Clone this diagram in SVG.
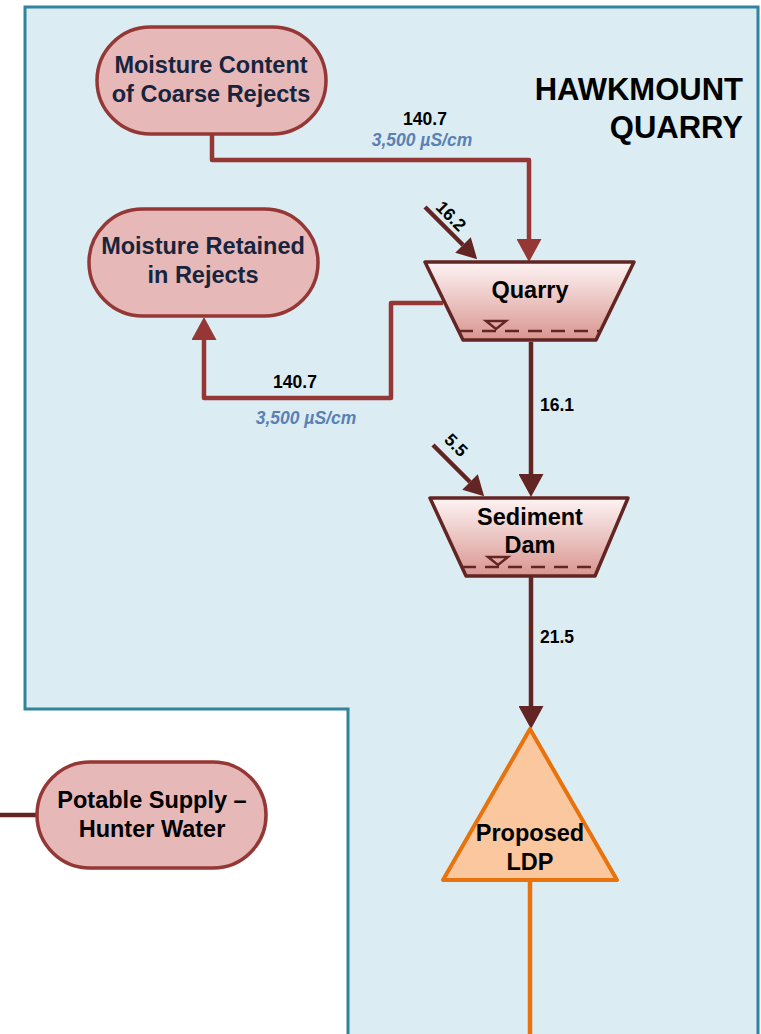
<svg xmlns="http://www.w3.org/2000/svg" width="761" height="1034" viewBox="0 0 761 1034">
  <style>
    .node { fill: #e6b8b7; stroke: #953735; stroke-width: 3.5; }
    .ntext { font-family: "Liberation Sans", Arial, sans-serif; font-weight: bold; font-size: 23.5px; text-anchor: middle; }
    .navy { fill: #17243d; }
    .blk { fill: #000; }
    .pond { stroke: #632523; stroke-width: 3.5; stroke-linejoin: round; }
    .level { stroke: #632523; stroke-width: 2.5; fill: none; }
    .flow { fill: none; stroke-width: 4.5; stroke-linejoin: round; }
    .red { stroke: #953735; }
    .dark { stroke: #632523; }
    .lbl { font-family: "Liberation Sans", Arial, sans-serif; font-weight: bold; font-size: 17.5px; fill: #000; }
    .ec { font-family: "Liberation Sans", Arial, sans-serif; font-weight: bold; font-style: italic; font-size: 17.5px; fill: #5b80b3; text-anchor: middle; }
  </style>
  <defs>
    <linearGradient id="pondFill" x1="0" y1="0" x2="0" y2="1">
      <stop offset="0" stop-color="#fdf4f4"/>
      <stop offset="1" stop-color="#d9958f"/>
    </linearGradient>
    <marker id="headRed" markerUnits="userSpaceOnUse" viewBox="0 0 23 25" refX="0" refY="12.5" markerWidth="23" markerHeight="25" orient="auto">
      <path d="M0,0 L23,12.5 L0,25 Z" fill="#953735"/>
    </marker>
    <marker id="headDark" markerUnits="userSpaceOnUse" viewBox="0 0 23 25" refX="0" refY="12.5" markerWidth="23" markerHeight="25" orient="auto">
      <path d="M0,0 L23,12.5 L0,25 Z" fill="#632523"/>
    </marker>
    <marker id="headSmall" markerUnits="userSpaceOnUse" viewBox="0 0 20 22" refX="0" refY="11" markerWidth="20" markerHeight="22" orient="auto">
      <path d="M0,0 L20,11 L0,22 Z" fill="#632523"/>
    </marker>
  </defs>

  <rect width="761" height="1034" fill="#ffffff"/>

  <!-- site boundary -->
  <g id="hawkmount-quarry">
    <polygon points="25,7 758,7 758,1034 348,1034 348,709 25,709" fill="#dbedf3"/>
    <path d="M348,1034 V709 H25 V7 H758 V1034" fill="none" stroke="#31849b" stroke-width="3"/>
    <text class="ntext blk" style="font-size:31px; text-anchor:end" x="743" y="100">HAWKMOUNT</text>
    <text class="ntext blk" style="font-size:31px; text-anchor:end" x="743" y="138">QUARRY</text>
  </g>

  <!-- connectors -->
  <g id="connectors">
    <path class="flow red" d="M212,134 V160 H529 V239" marker-end="url(#headRed)"/>
    <path class="flow red" d="M443,303 H391 V398 H204 V340" marker-end="url(#headRed)"/>
    <path class="flow dark" d="M425,207 L463,245" stroke-width="3.5" marker-end="url(#headSmall)"/>
    <path class="flow dark" d="M531,342 V474" marker-end="url(#headDark)"/>
    <path class="flow dark" d="M433,445 L470,482" stroke-width="3.5" marker-end="url(#headSmall)"/>
    <path class="flow dark" d="M531,577 V706" marker-end="url(#headDark)"/>
    <path class="flow" d="M530,880 V1034" stroke="#e8720c" stroke-width="5"/>
    <path class="flow dark" d="M0,815 H37" stroke-width="5"/>

    <text class="lbl" x="425" y="125" text-anchor="middle">140.7</text>
    <text class="ec" x="422" y="146">3,500 µS/cm</text>
    <text class="lbl" x="295" y="388" text-anchor="middle">140.7</text>
    <text class="ec" x="306" y="424">3,500 µS/cm</text>
    <text class="lbl" x="540" y="411">16.1</text>
    <text class="lbl" x="540" y="643">21.5</text>
    <g transform="translate(451,216) rotate(45)">
      <text class="lbl" x="0" y="6" text-anchor="middle">16.2</text>
    </g>
    <g transform="translate(456,445) rotate(45)">
      <text class="lbl" x="0" y="6" text-anchor="middle">5.5</text>
    </g>
  </g>

  <g id="moisture-content">
    <rect class="node" x="97" y="27" width="229" height="107" rx="53.5"/>
    <text class="ntext navy" x="211" y="73">Moisture Content</text>
    <text class="ntext navy" x="211" y="102">of Coarse Rejects</text>
  </g>

  <g id="moisture-retained">
    <rect class="node" x="89" y="209" width="229" height="107" rx="53.5"/>
    <text class="ntext navy" x="203" y="254">Moisture Retained</text>
    <text class="ntext navy" x="203" y="283">in Rejects</text>
  </g>

  <g id="quarry">
    <polygon class="pond" points="425,262 634,262 596,340 463,340" fill="url(#pondFill)"/>
    <line class="level" x1="459" y1="331" x2="600" y2="331" stroke-dasharray="14 9"/>
    <polygon class="level" points="486,321 506,321 496,329"/>
    <text class="ntext blk" x="530" y="298">Quarry</text>
  </g>

  <g id="sediment-dam">
    <polygon class="pond" points="430,498 628,498 595,576 466,576" fill="url(#pondFill)"/>
    <line class="level" x1="462" y1="567" x2="599" y2="567" stroke-dasharray="14 9"/>
    <polygon class="level" points="488,557 508,557 498,565"/>
    <text class="ntext blk" x="530" y="525">Sediment</text>
    <text class="ntext blk" x="530" y="553">Dam</text>
  </g>

  <g id="proposed-ldp">
    <polygon points="530,729 617,880 443,880" fill="#fac79f" stroke="#e8720c" stroke-width="4" stroke-linejoin="round"/>
    <text class="ntext blk" x="530" y="841">Proposed</text>
    <text class="ntext blk" x="530" y="870">LDP</text>
  </g>

  <g id="potable-supply">
    <rect class="node" x="37" y="762" width="229" height="106" rx="53"/>
    <text class="ntext blk" x="152" y="808">Potable Supply –</text>
    <text class="ntext blk" x="152" y="837">Hunter Water</text>
  </g>
</svg>
